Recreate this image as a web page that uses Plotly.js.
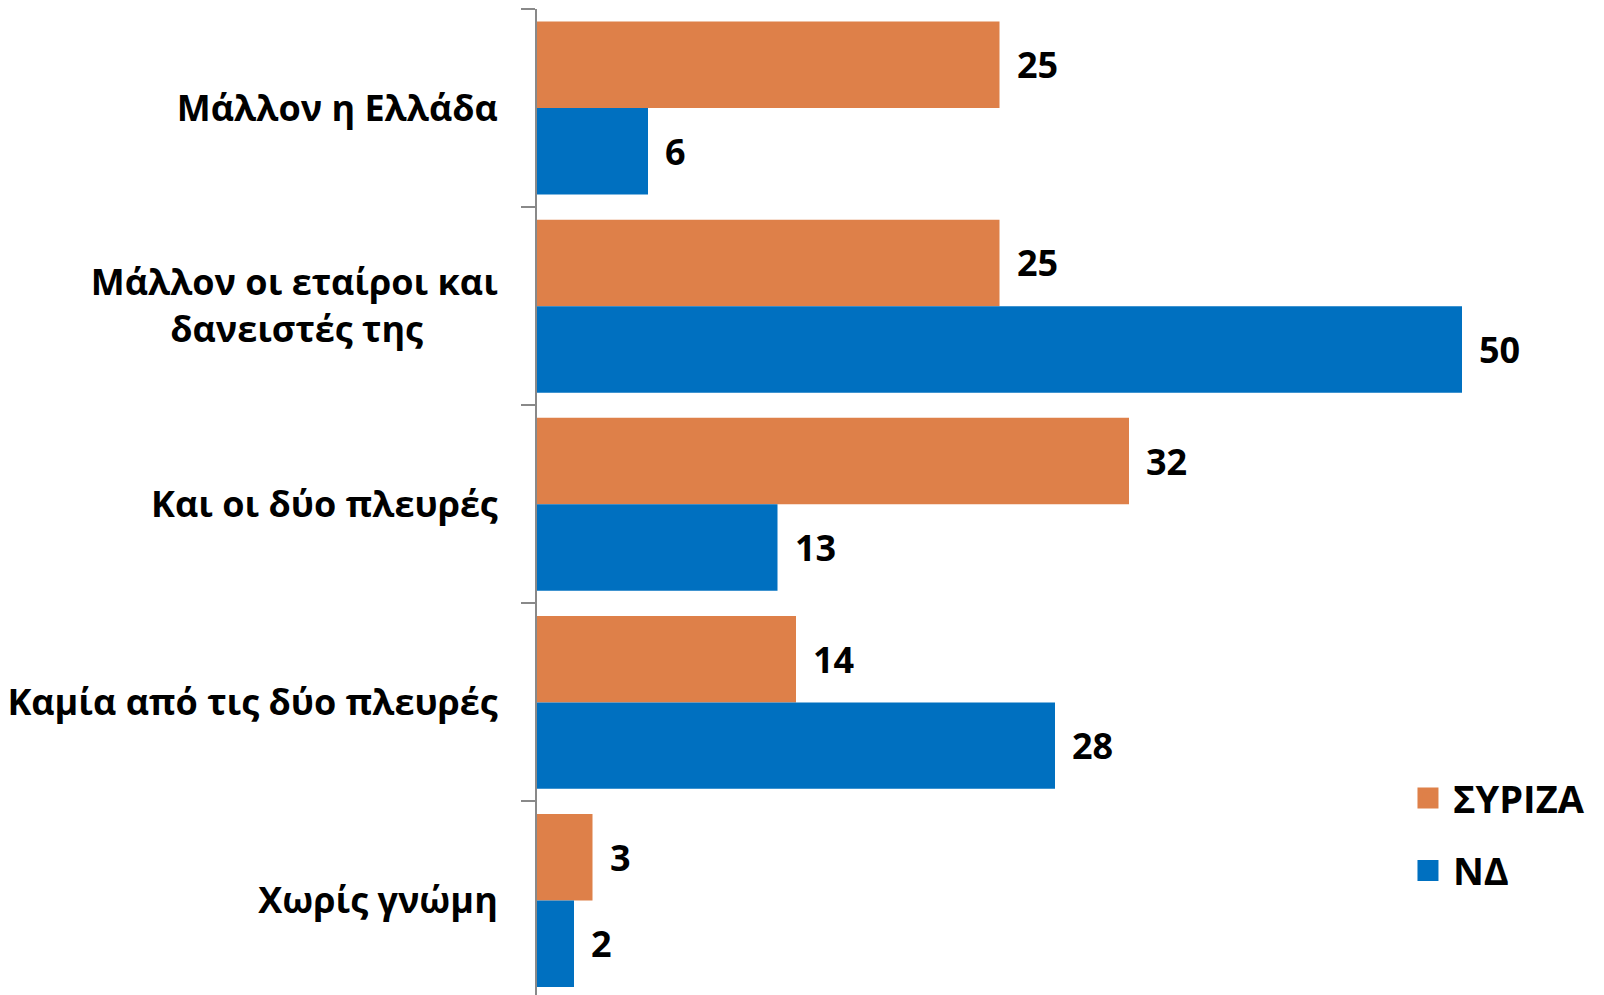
<!DOCTYPE html>
<html>
<head>
<meta charset="utf-8">
<script src="https://cdn.plot.ly/plotly-3.0.1.min.js"></script>
<style>html,body{margin:0;padding:0;background:#fff;}#chart{width:1604px;height:995px;}</style>
</head>
<body>
<div id="chart"></div>
<script>
// ---- data ----
const categories = [
  "Μάλλον η Ελλάδα",
  "Μάλλον οι εταίροι και<br>δανειστές της",
  "Και οι δύο πλευρές",
  "Καμία από τις δύο πλευρές",
  "Χωρίς γνώμη"
];
const seriesNames = ["ΣΥΡΙΖΑ", "ΝΔ"];
const syrizaValues = [25, 25, 32, 14, 3];
const ndValues = [6, 50, 13, 28, 2];

// ---- styling ----
const colors = ["#DE8049", "#0070C0"];
const FONT = "'Open Sans', 'Noto Sans', 'DejaVu Sans', sans-serif";
const BARGAP = 0.127;
const seriesValues = [syrizaValues, ndValues];

// center the second line of multi-line labels visually (right-anchored ticks)
const tickText = categories.map(c => {
  const parts = c.split("<br>");
  if (parts.length < 2) return c;
  return parts[0] + "<br>" + parts[1] + "\u00a0".repeat(8);
});

const traces = [];
seriesValues.forEach((vals, s) => {
  traces.push({
    type: "bar",
    orientation: "h",
    name: seriesNames[s],
    legendgroup: "g" + s,
    showlegend: false,
    x: vals,
    y: categories,
    marker: {color: colors[s], line: {width: 0}},
    hoverinfo: "x"
  });
});
// legend entries (bigger square symbols)
seriesValues.forEach((vals, s) => {
  traces.push({
    type: "scatter",
    mode: "markers",
    name: seriesNames[s],
    legendgroup: "g" + s,
    x: [null],
    y: [null],
    marker: {symbol: "square", size: 16, color: colors[s], line: {width: 5, color: colors[s]}},
    hoverinfo: "skip"
  });
});

// value labels
const half = (1 - BARGAP) / 4;
const annotations = [];
seriesValues.forEach((vals, s) => {
  vals.forEach((v, i) => {
    annotations.push({
      x: v,
      y: i + (s === 0 ? -half : half),
      xref: "x", yref: "y",
      text: String(v),
      showarrow: false,
      xanchor: "left",
      yanchor: "middle",
      xshift: 15,
      font: {family: FONT, size: 36, color: "#000", weight: "bold"}
    });
  });
});

const plotWidth = 1604 - 537;
const layout = {
  width: 1604,
  height: 995,
  margin: {l: 537, r: 0, t: 9, b: 0, pad: 0},
  paper_bgcolor: "#fff",
  plot_bgcolor: "#fff",
  barmode: "group",
  bargap: BARGAP,
  bargroupgap: 0,
  showlegend: true,
  legend: {
    x: 0.8116, xanchor: "left",
    y: 0.163, yanchor: "middle",
    itemwidth: 40,
    tracegroupgap: 20,
    bgcolor: "rgba(0,0,0,0)",
    font: {family: FONT, size: 38, color: "#000", weight: "bold"}
  },
  xaxis: {
    range: [0, plotWidth / 18.5],
    visible: false,
    showgrid: false,
    zeroline: false,
    fixedrange: true
  },
  yaxis: {
    type: "category",
    categoryorder: "array",
    categoryarray: categories,
    tickvals: categories,
    ticktext: tickText,
    range: [4.477, -0.5],
    showline: true,
    linecolor: "#898989",
    linewidth: 2,
    ticks: "outside",
    tickson: "boundaries",
    ticklen: 14,
    tickwidth: 2,
    tickcolor: "#898989",
    ticklabelstandoff: 30,
    showgrid: false,
    zeroline: false,
    automargin: false,
    fixedrange: true,
    tickfont: {family: FONT, size: 36, color: "#000", weight: "bold"}
  },
  annotations: annotations
};

Plotly.newPlot("chart", traces, layout, {displayModeBar: false, staticPlot: true});
</script>
</body>
</html>
